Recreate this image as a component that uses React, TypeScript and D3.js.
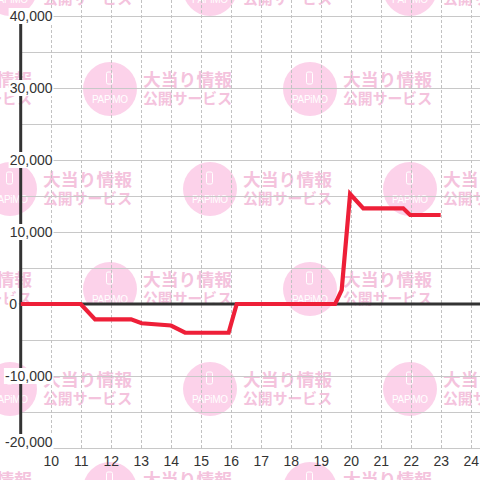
import React from "react";
import * as d3 from "d3";

const times = [9, 11.0, 11.48, 12.68, 13.03, 14.01, 14.48, 15.93, 16.2, 19.48, 19.7, 19.98, 20.42, 21.75, 21.98, 23.0];
const balance = [0, 0, -2130, -2130, -2680, -2990, -3990, -3990, 0, 0, 1940, 15280, 13290, 13290, 12360, 12360];
const yTicks = [-20000, -15000, -10000, -5000, 0, 5000, 10000, 15000, 20000, 25000, 30000, 35000, 40000];
const yLabelTicks = [-20000, -10000, 0, 10000, 20000, 30000, 40000];
const xTicks = [10, 11, 12, 13, 14, 15, 16, 17, 18, 19, 20, 21, 22, 23, 24];

const W = 480, H = 480;
const FONT = "'Liberation Sans', Arial, sans-serif";
const JP = "'Noto Sans CJK JP', sans-serif";

function textW(s: string) {
  let w = 0;
  for (const c of s) {
    if (c === ",") w += 3.9;
    else if (c === "-") w += 4.7;
    else w += 7.8;
  }
  return w;
}

function Watermark({ cx, cy }: { cx: number; cy: number }) {
  return (
    <g>
      <circle cx={cx} cy={cy} r={27} fill="#fcd2ea" />
      <rect x={cx - 3.5} y={cy - 17} width={6} height={12} rx={1.5} fill="none" stroke="#fff" strokeWidth={1} />
      <text x={cx - 18} y={cy + 14} fontFamily={FONT} fontSize={10} fill="#fff" textLength={36} lengthAdjust="spacing">PAPiMO</text>
      <text x={cx + 33} y={cy - 3} fontFamily={JP} fontWeight="bold" fontSize={17} fill="#f4c3dd" textLength={89} lengthAdjust="spacingAndGlyphs">大当り情報</text>
      <text x={cx + 33} y={cy + 15} fontFamily={JP} fontWeight="bold" fontSize={15} fill="#f4c3dd" textLength={89} lengthAdjust="spacingAndGlyphs">公開サービス</text>
    </g>
  );
}

export default function App() {
  const x = d3.scaleLinear().domain([9, 24]).range([20.7, 470.7]);
  const y = d3.scaleLinear().domain([-20000, 40000]).range([448, 16]);
  const line = d3.line<number>().x((_, i) => x(times[i])).y((d) => y(d));
  const negArea = d3
    .area<number>()
    .x((_, i) => x(times[i]))
    .y0(y(0))
    .y1((d) => y(Math.min(d, 0)));

  const marks: { cx: number; cy: number }[] = [];
  for (let r = 0; r < 6; r++) {
    const cy = -11 + r * 100;
    const odd = r % 2 === 1;
    const xs = odd ? [-90, 110, 310, 510] : [10, 210, 410];
    for (const cx of xs) marks.push({ cx, cy });
  }

  return (
    <svg width={W} height={H} style={{ position: "absolute", left: 0, top: 0, background: "#fff" }}>
      <rect x={0} y={0} width={W} height={H} fill="#fff" />
      {marks.map((m, i) => (
        <Watermark key={i} cx={m.cx} cy={m.cy} />
      ))}
      <path d={negArea(balance) || ""} fill="#fff" stroke="none" />
      {yTicks.map((t) => (
        <line key={"h" + t} x1={x(9)} x2={W} y1={y(t) + 0.5} y2={y(t) + 0.5} stroke="#c8c8c8" strokeWidth={1} />
      ))}
      {xTicks.map((t) => (
        <line key={"v" + t} x1={Math.round(x(t)) + 0.5} x2={Math.round(x(t)) + 0.5} y1={0} y2={y(-20000)} stroke="#c2c2c2" strokeWidth={1} strokeDasharray="3,2" />
      ))}
      <line x1={x(9)} x2={x(9)} y1={y(40000)} y2={y(-20000)} stroke="#333" strokeWidth={3} />
      <line x1={x(9)} x2={W} y1={y(0)} y2={y(0)} stroke="#333" strokeWidth={3} />
      <path d={line(balance) || ""} fill="none" stroke="#ee1f38" strokeWidth={4.2} strokeLinejoin="miter" strokeLinecap="butt" />
      {yLabelTicks.map((t) => {
        const s = d3.format(",")(t).replace("−", "-");
        const w = textW(s);
        const xr = t === 0 ? 17 : 52.5;
        const yy = Math.min(y(t), 442);
        return (
          <g key={"yl" + t}>
            <rect x={xr - w - 1} y={yy - 8} width={w + 2} height={16} fill="#fff" />
            <text x={xr} y={yy} dy="0.35em" textAnchor="end" fontFamily={FONT} fontSize={14} fill="#333">{s}</text>
          </g>
        );
      })}
      {xTicks.map((t) => (
        <text key={"xl" + t} x={x(t) + 0.5} y={461} dy="0.35em" textAnchor="middle" fontFamily={FONT} fontSize={14} fill="#333">{t}</text>
      ))}
    </svg>
  );
}
